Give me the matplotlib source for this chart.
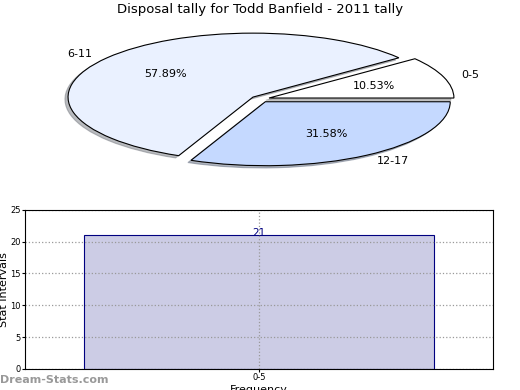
import matplotlib
matplotlib.use("Agg")
import matplotlib.pyplot as plt

# pie data
pie_labels = ["0-5", "6-11", "12-17"]
pie_values = [2, 11, 6]
pie_colors = ["#ffffff", "#eaf1ff", "#c5d9ff"]

# bar data
bar_labels = ["0-5"]
bar_values = [21]

fig = plt.figure(figsize=(5.2, 3.9), dpi=100)

fig.text(0.5, 1 - 10 / 390, "Disposal tally for Todd Banfield - 2011 tally",
         ha="center", va="center", fontsize=9.5)

ax1 = fig.add_axes([0.056, 0.541, 0.889, 0.41])
wedges, texts, autotexts = ax1.pie(
    pie_values, labels=pie_labels, colors=pie_colors, explode=[0.05] * 3,
    autopct="%.2f%%", startangle=0,
    shadow=dict(ox=-0.012, oy=-0.025, shade=0.5),
    labeldistance=1.1, pctdistance=0.6,
    wedgeprops=dict(edgecolor="black", linewidth=0.8),
    textprops=dict(fontsize=8))
ax1.set_aspect("auto")
ax1.set_xlim(-1.25, 1.25)
ax1.set_ylim(-1.25, 1.25)

ax2 = fig.add_axes([0.048, 0.054, 0.9, 0.408])
xs = range(len(bar_values))
bars = ax2.bar(xs, bar_values, width=1.0, color="#ccccE5", edgecolor="navy",
               linewidth=0.8, zorder=2)
for x, v in zip(xs, bar_values):
    ax2.text(x, v + 0.4, str(v), ha="center", va="center", color="navy",
             fontsize=7.5, zorder=3)
ax2.set_xlim(-0.667, 0.667)
ax2.set_ylim(0, 25)
ax2.set_yticks([0, 5, 10, 15, 20, 25])
ax2.set_xticks(list(xs))
ax2.set_xticklabels(bar_labels)
ax2.tick_params(labelsize=6, length=2, pad=1)
ax2.grid(True, linestyle=":", color="#999999", linewidth=0.9, zorder=1)
ax2.set_axisbelow(False)
for s in ax2.spines.values():
    s.set_zorder(5)
ax2.set_ylabel("Stat Intervals", fontsize=8, labelpad=1)
ax2.set_xlabel("Frequency", fontsize=8, labelpad=2)

fig.text(0.0, 10 / 390, "Dream-Stats.com", ha="left", va="center",
         fontsize=8, color="#999999", fontweight="bold")

fig.savefig("out.png", dpi=100)
